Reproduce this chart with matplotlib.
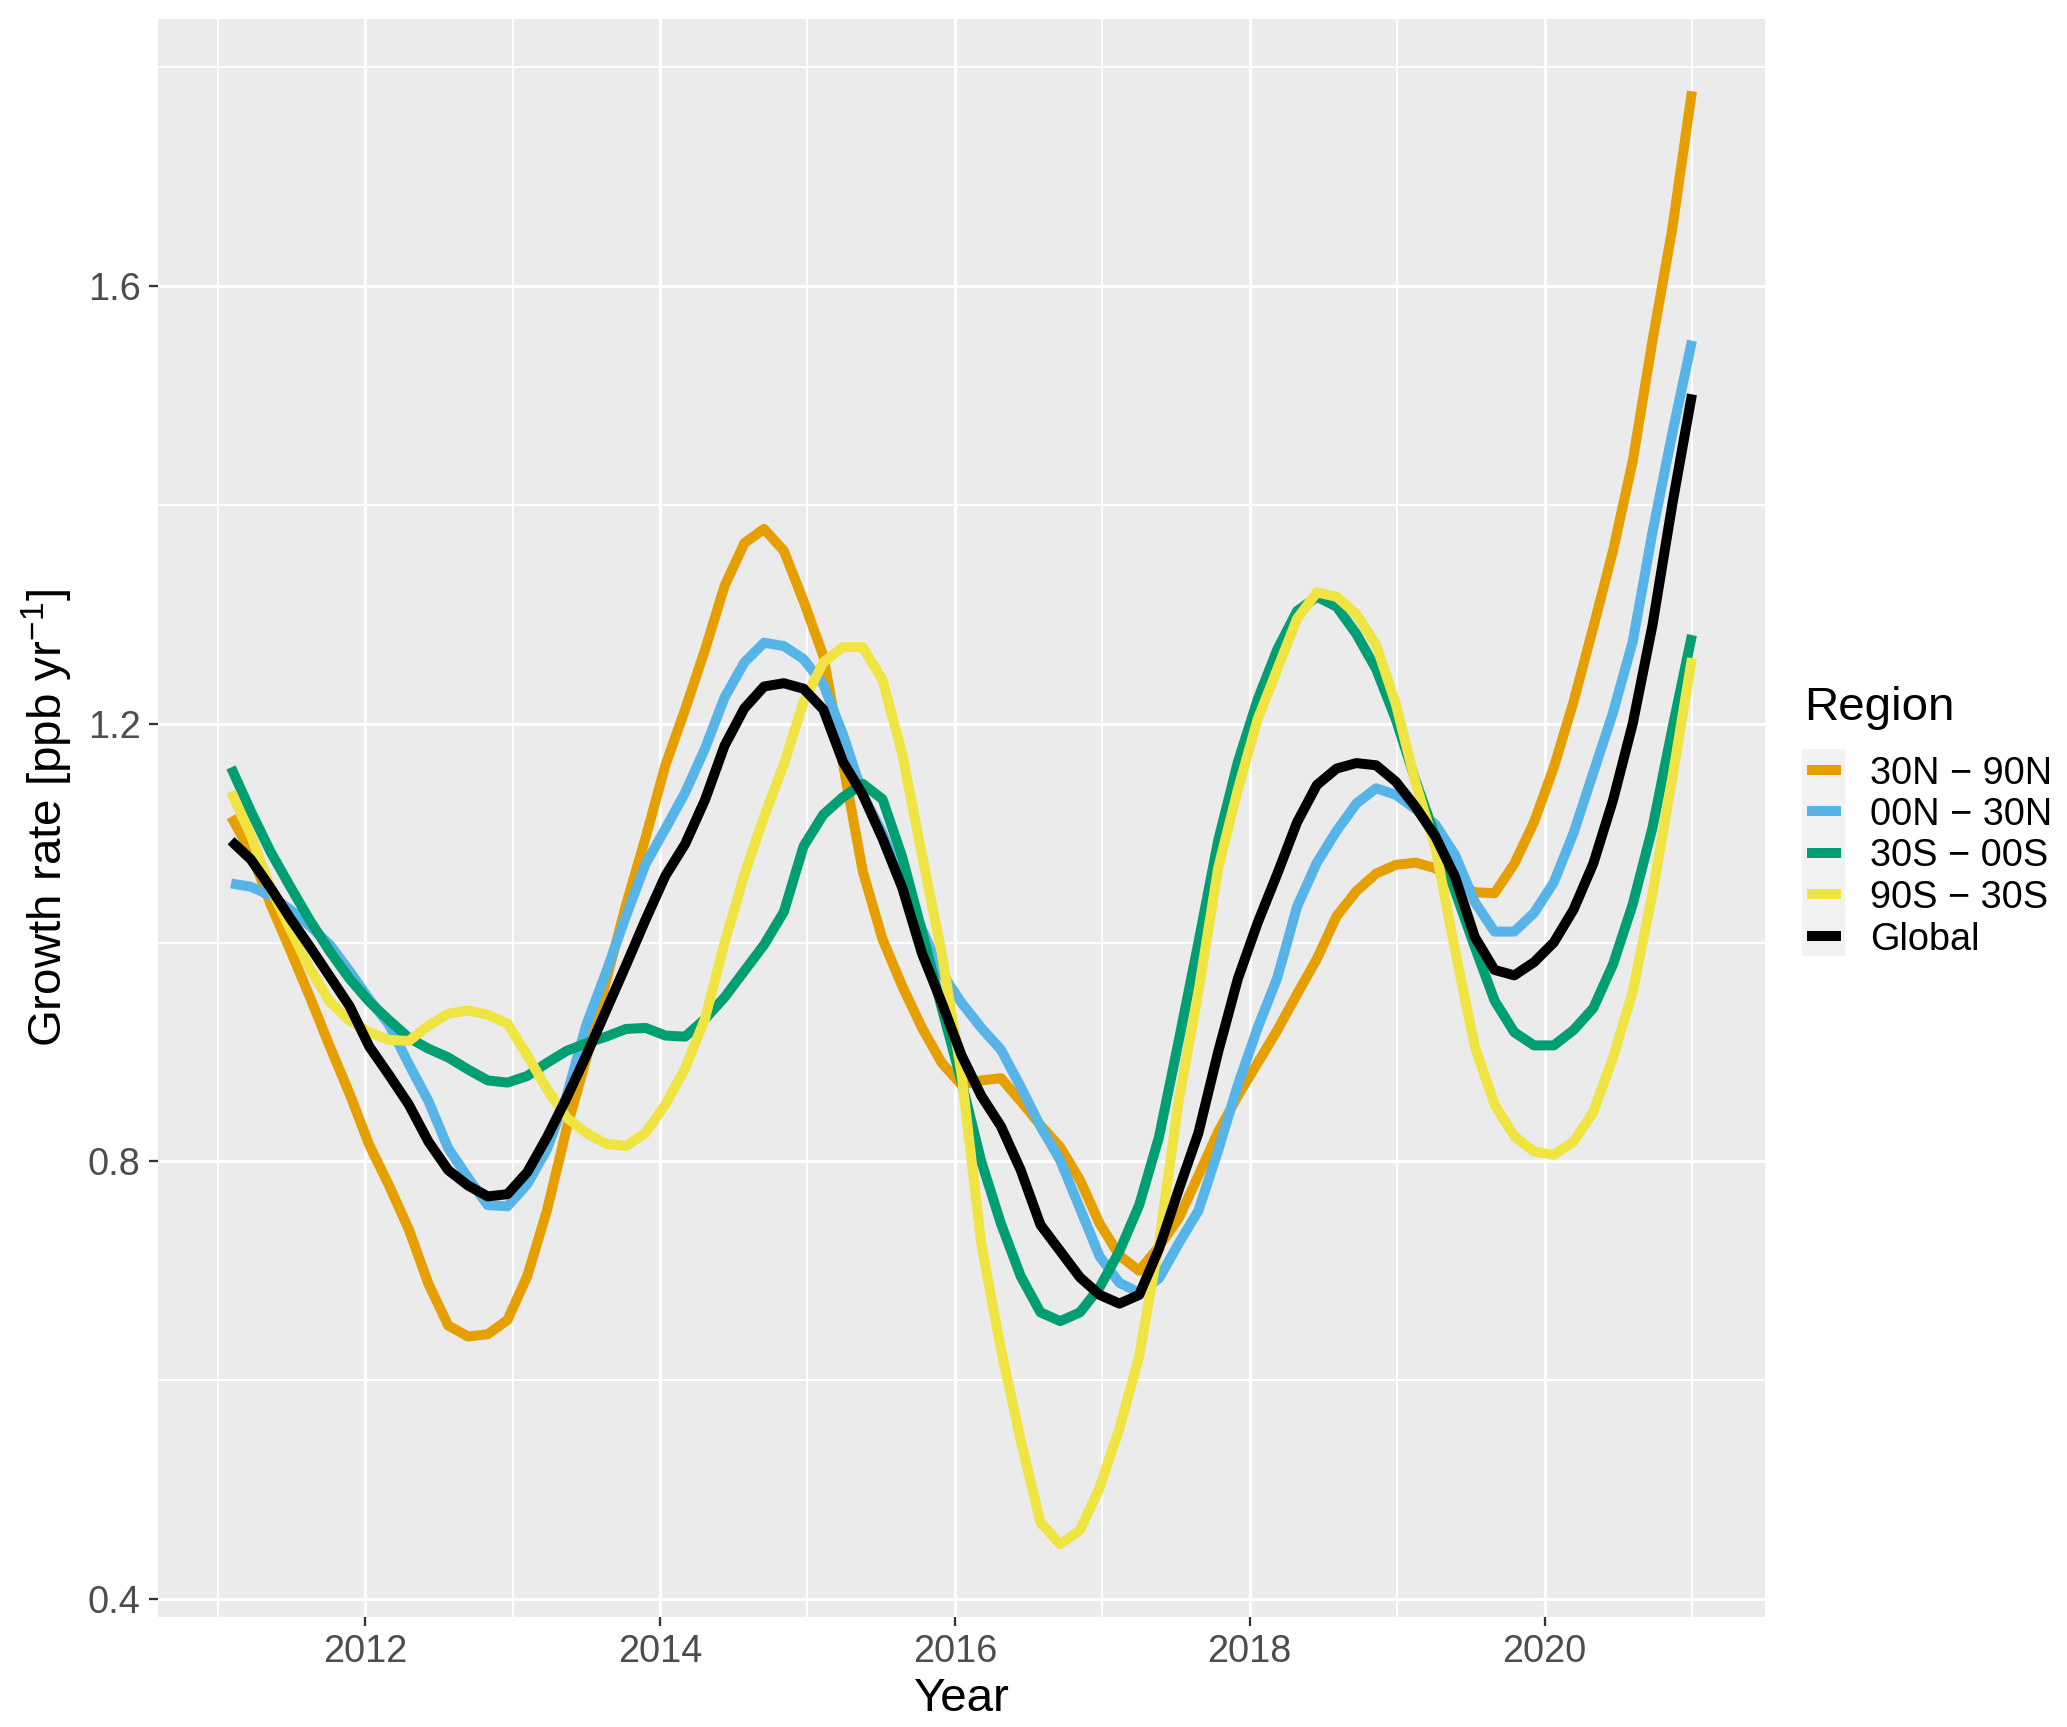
import numpy as np
import matplotlib
matplotlib.use("Agg")
import matplotlib.pyplot as plt
from matplotlib.lines import Line2D
from matplotlib.patches import Rectangle
from matplotlib.ticker import MultipleLocator, FormatStrFormatter

# ---------------- data ----------------
START_YEAR = 2011.09
END_YEAR = 2021.0
N_POINTS = 75
dates = np.linspace(START_YEAR, END_YEAR, N_POINTS)

regions = ["30N \u2212 90N", "00N \u2212 30N", "30S \u2212 00S", "90S \u2212 30S", "Global"]
colors = ["#E69F00", "#56B4E9", "#009E73", "#F0E442", "#000000"]

nh_extra = [1.115, 1.083, 1.035, 0.993, 0.950, 0.905, 0.862, 0.815, 0.778, 0.738,
            0.688, 0.650, 0.640, 0.642, 0.655, 0.695, 0.755, 0.830, 0.894, 0.965,
            1.034, 1.096, 1.162, 1.213, 1.267, 1.326, 1.365, 1.378, 1.358, 1.312,
            1.262, 1.163, 1.065, 1.003, 0.960, 0.922, 0.890, 0.870, 0.874, 0.876,
            0.855, 0.833, 0.813, 0.783, 0.743, 0.714, 0.700, 0.722, 0.748, 0.787,
            0.827, 0.860, 0.890, 0.920, 0.953, 0.985, 1.024, 1.047, 1.063, 1.071,
            1.073, 1.068, 1.055, 1.046, 1.045, 1.072, 1.110, 1.160, 1.220, 1.288,
            1.358, 1.440, 1.550, 1.652, 1.778]

nh_trop = [1.054, 1.051, 1.043, 1.030, 1.015, 0.998, 0.974, 0.948, 0.925, 0.889,
           0.855, 0.812, 0.785, 0.760, 0.759, 0.779, 0.811, 0.860, 0.925, 0.973,
           1.024, 1.072, 1.104, 1.137, 1.177, 1.224, 1.256, 1.274, 1.271, 1.259,
           1.236, 1.190, 1.135, 1.100, 1.055, 1.012, 0.972, 0.945, 0.922, 0.902,
           0.868, 0.832, 0.801, 0.757, 0.713, 0.689, 0.680, 0.693, 0.725, 0.755,
           0.810, 0.870, 0.922, 0.968, 1.033, 1.073, 1.102, 1.127, 1.141, 1.135,
           1.122, 1.108, 1.080, 1.037, 1.010, 1.010, 1.027, 1.055, 1.100, 1.155,
           1.210, 1.275, 1.375, 1.465, 1.550]

sh_trop = [1.160, 1.120, 1.083, 1.051, 1.020, 0.992, 0.967, 0.946, 0.929, 0.913,
           0.903, 0.895, 0.884, 0.874, 0.872, 0.878, 0.890, 0.901, 0.908, 0.914,
           0.921, 0.922, 0.915, 0.914, 0.930, 0.950, 0.974, 0.998, 1.028, 1.088,
           1.117, 1.133, 1.145, 1.131, 1.078, 1.010, 0.940, 0.873, 0.800, 0.743,
           0.695, 0.662, 0.654, 0.662, 0.685, 0.718, 0.760, 0.822, 0.910, 1.000,
           1.093, 1.165, 1.222, 1.268, 1.303, 1.316, 1.307, 1.282, 1.250, 1.204,
           1.148, 1.097, 1.047, 0.996, 0.947, 0.918, 0.906, 0.906, 0.920, 0.940,
           0.980, 1.035, 1.105, 1.195, 1.281]

sh_extra = [1.138, 1.098, 1.050, 1.012, 0.976, 0.946, 0.929, 0.918, 0.911, 0.910,
            0.924, 0.935, 0.938, 0.934, 0.926, 0.897, 0.866, 0.840, 0.826, 0.816,
            0.814, 0.826, 0.852, 0.885, 0.930, 1.000, 1.062, 1.115, 1.163, 1.220,
            1.256, 1.270, 1.270, 1.240, 1.172, 1.080, 0.990, 0.880, 0.725, 0.628,
            0.545, 0.470, 0.450, 0.463, 0.502, 0.556, 0.622, 0.725, 0.855, 0.955,
            1.068, 1.140, 1.204, 1.250, 1.296, 1.320, 1.316, 1.300, 1.272, 1.218,
            1.146, 1.087, 0.993, 0.905, 0.852, 0.823, 0.809, 0.806, 0.818, 0.845,
            0.895, 0.955, 1.045, 1.150, 1.260]

global_rate = [1.093, 1.076, 1.050, 1.022, 0.996, 0.969, 0.942, 0.905, 0.879, 0.852,
               0.818, 0.792, 0.778, 0.768, 0.770, 0.790, 0.822, 0.858, 0.897, 0.938,
               0.979, 1.021, 1.061, 1.090, 1.130, 1.180, 1.214, 1.234, 1.237, 1.232,
               1.213, 1.165, 1.135, 1.095, 1.050, 0.990, 0.945, 0.897, 0.860, 0.832,
               0.792, 0.742, 0.718, 0.694, 0.678, 0.670, 0.678, 0.720, 0.774, 0.826,
               0.900, 0.967, 1.018, 1.063, 1.110, 1.144, 1.159, 1.164, 1.162, 1.147,
               1.124, 1.097, 1.060, 1.005, 0.975, 0.970, 0.982, 1.000, 1.030, 1.072,
               1.130, 1.200, 1.290, 1.400, 1.501]

series = [nh_extra, nh_trop, sh_trop, sh_extra, global_rate]
draw_order = [0, 1, 3, 2, 4]

x_major = [2012, 2014, 2016, 2018, 2020]
y_major = [0.4, 0.8, 1.2, 1.6]

# ---------------- style ----------------
plt.rcParams['font.family'] = ['Liberation Sans', 'DejaVu Sans']
plt.rcParams['mathtext.fontset'] = 'custom'
plt.rcParams['mathtext.rm'] = 'Liberation Sans'
plt.rcParams['mathtext.it'] = 'Liberation Sans:italic'
plt.rcParams['mathtext.bf'] = 'Liberation Sans:bold'

DPI = 300
W, H = 2067, 1727
fig = plt.figure(figsize=(W / DPI, H / DPI), dpi=DPI)
fig.patch.set_facecolor("white")

left, right, bottom, top = 158 / W, 1765 / W, 1 - 1617 / H, 1 - 18.6 / H
ax = fig.add_axes([left, bottom, right - left, top - bottom])
ax.set_facecolor("#EBEBEB")
for s in ax.spines.values():
    s.set_visible(False)

LW = 2.4
for i in draw_order:
    ax.plot(dates, series[i], color=colors[i], lw=LW, solid_capstyle="butt",
            solid_joinstyle="round", zorder=3 + i * 0.01)

# ggplot-like 5% expansion
allv = np.concatenate([np.asarray(s) for s in series])
xr = dates.max() - dates.min()
yr = allv.max() - allv.min()
ax.set_xlim(dates.min() - 0.05 * xr, dates.max() + 0.05 * xr)
ax.set_ylim(allv.min() - 0.05 * yr, allv.max() + 0.05 * yr)

ax.set_xticks(x_major)
ax.xaxis.set_minor_locator(MultipleLocator(1))
ax.set_yticks(y_major)
ax.yaxis.set_minor_locator(MultipleLocator(0.2))
ax.xaxis.set_major_formatter(FormatStrFormatter('%d'))
ax.yaxis.set_major_formatter(FormatStrFormatter('%.1f'))

ax.set_axisbelow(True)
ax.grid(which="major", color="white", lw=0.75)
ax.grid(which="minor", color="white", lw=0.45)
ax.tick_params(which="major", length=2.2, width=0.55, color="#333333",
               labelsize=9.1, labelcolor="#4D4D4D", pad=2.0)
ax.tick_params(which="minor", length=0)

ax.set_xlabel("Year", fontsize=11.4, color="black", labelpad=1.5)
ax.set_ylabel(r"Growth rate [ppb yr$^{-1}$]", fontsize=11.4, color="black", labelpad=3.0)

# ---------------- legend (manual, ggplot style) ----------------
fx = lambda px: px / W
fy = lambda py: 1 - py / H
fig.text(fx(1804), fy(720), "Region", fontsize=11.4, color="black",
         ha="left", va="baseline")
row_h = 41.5
first_row = 769.5
key_x0, key_x1 = 1802, 1845
fig.add_artist(Rectangle((fx(key_x0), fy(first_row - row_h / 2 + row_h * len(regions))),
                         fx(key_x1) - fx(key_x0), row_h * len(regions) / H,
                         transform=fig.transFigure, facecolor="#F2F2F2",
                         edgecolor="none", zorder=1))
for i, (lab, col) in enumerate(zip(regions, colors)):
    yc = fy(first_row + i * row_h)
    fig.add_artist(Line2D([fx(1807), fx(1841)], [yc, yc], transform=fig.transFigure,
                          color=col, lw=LW, solid_capstyle="butt", zorder=2))
    fig.text(fx(1870), yc, lab, fontsize=9.1, color="black", ha="left", va="center_baseline")

fig.savefig("out.png", dpi=DPI)
